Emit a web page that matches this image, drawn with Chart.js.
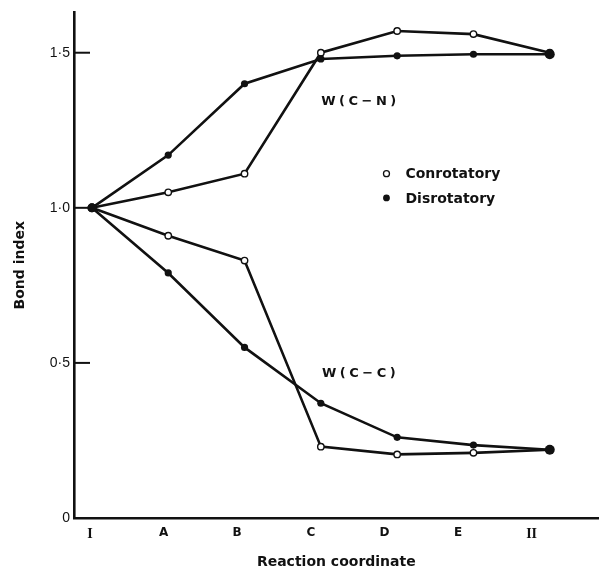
<!DOCTYPE html>
<html>
<head>
<meta charset="utf-8">
<script src="https://cdn.jsdelivr.net/npm/chart.js@4.4.1/dist/chart.umd.min.js"></script>
<style>
  html, body { margin: 0; padding: 0; background: #fff; }
  #wrap { width: 604px; height: 571px; }
</style>
</head>
<body>
<div id="wrap"><canvas id="chart"></canvas></div>
<script>
// Reaction coordinate points
const categories = ['I', 'A', 'B', 'C', 'D', 'E', 'II'];

// W(C-N) bond index
const conCN = [1.0, 1.05, 1.11, 1.50, 1.57, 1.56, 1.50];
const disCN = [1.0, 1.17, 1.40, 1.48, 1.49, 1.495, 1.495];

// W(C-C) bond index
const conCC = [1.0, 0.91, 0.83, 0.23, 0.205, 0.21, 0.22];
const disCC = [1.0, 0.79, 0.55, 0.37, 0.26, 0.235, 0.22];

const yTickValues = [0, 0.5, 1.0, 1.5];
const yTickLabels = ['0', '0·5', '1·0', '1·5'];

const toPoints = arr => arr.map((v, i) => ({ x: i, y: v }));

const INK = '#111';
const sans = "'Liberation Sans', Arial, sans-serif";
const wide = "'DejaVu Sans', sans-serif";

// radius of the filled dots, bigger at the two end states
const disRadius = [4.5, 3.6, 3.6, 3.6, 3.6, 3.6, 5];

function lineSet(label, data, open) {
  return {
    label: label,
    data: toPoints(data),
    borderColor: INK,
    borderWidth: 2.6,
    tension: 0,
    pointStyle: 'circle',
    pointRadius: open ? 3.2 : disRadius,
    pointBorderWidth: open ? 1.4 : 0,
    pointBorderColor: INK,
    pointBackgroundColor: open ? '#fff' : INK
  };
}

// inward tick marks on the y axis, text labels and legend inside the plot
const decorations = {
  id: 'decorations',
  afterDraw(chart) {
    const { ctx, chartArea, scales } = chart;
    const x = scales.x, y = scales.y;
    ctx.save();
    ctx.strokeStyle = INK;
    ctx.lineWidth = 2;
    yTickValues.forEach(v => {
      if (v === 0) return;
      const py = y.getPixelForValue(v);
      ctx.beginPath();
      ctx.moveTo(chartArea.left, py);
      ctx.lineTo(chartArea.left + 16, py);
      ctx.stroke();
    });

    ctx.fillStyle = INK;
    ctx.textBaseline = 'middle';
    ctx.font = 'bold 13px ' + wide;
    if ('letterSpacing' in ctx) ctx.letterSpacing = '3.5px';
    ctx.textAlign = 'center';
    ctx.fillText('W(C\u2212N)', x.getPixelForValue(3.52), y.getPixelForValue(1.342));
    ctx.fillText('W(C\u2212C)', x.getPixelForValue(3.52), y.getPixelForValue(0.466));
    if ('letterSpacing' in ctx) ctx.letterSpacing = '0px';

    // legend
    const lx = x.getPixelForValue(3.86);
    const rows = [
      { text: 'Conrotatory', open: true, v: 1.11 },
      { text: 'Disrotatory', open: false, v: 1.032 }
    ];
    ctx.font = 'bold 14px ' + wide;
    ctx.textAlign = 'left';
    rows.forEach(r => {
      const py = y.getPixelForValue(r.v);
      ctx.beginPath();
      ctx.arc(lx, py, r.open ? 3 : 3.4, 0, Math.PI * 2);
      if (r.open) {
        ctx.fillStyle = '#fff';
        ctx.fill();
        ctx.lineWidth = 1.3;
        ctx.stroke();
      } else {
        ctx.fillStyle = INK;
        ctx.fill();
      }
      ctx.fillStyle = INK;
      ctx.fillText(r.text, lx + 19, py + 1);
    });
    ctx.restore();
  }
};

new Chart(document.getElementById('chart'), {
  type: 'line',
  data: {
    datasets: [
      lineSet('Disrotatory W(C-N)', disCN, false),
      lineSet('Disrotatory W(C-C)', disCC, false),
      lineSet('Conrotatory W(C-N)', conCN, true),
      lineSet('Conrotatory W(C-C)', conCC, true)
    ]
  },
  options: {
    responsive: true,
    maintainAspectRatio: false,
    animation: false,
    layout: { padding: { top: 9, right: 4, left: 0, bottom: 0 } },
    plugins: {
      legend: { display: false },
      tooltip: { enabled: false }
    },
    scales: {
      // data axis: carries the baseline only
      x: {
        type: 'linear',
        position: 'bottom',
        min: -0.235,
        max: 6.64,
        weight: 0,
        grid: { display: false },
        border: { display: true, color: INK, width: 2.6 },
        ticks: { display: false },
        afterFit: s => { s.height = 0; }
      },
      // label axis: the printed category labels sit slightly left of the points
      xl: {
        type: 'linear',
        position: 'bottom',
        min: -0.217,
        max: 6.91,
        weight: 1,
        grid: { display: false, drawTicks: false },
        border: { display: false },
        ticks: {
          stepSize: 1,
          autoSkip: false,
          includeBounds: false,
          maxRotation: 0,
          padding: 8,
          color: INK,
          font: c => {
            const lab = categories[c.tick ? c.tick.value : 0] || '';
            return lab.startsWith('I')
              ? { family: "'Liberation Serif', serif", size: 14, weight: 'bold' }
              : { family: wide, size: 12, weight: 'bold' };
          },
          callback: v => Number.isInteger(v) ? categories[v] : ''
        },
        title: {
          display: true,
          text: 'Reaction coordinate',
          color: INK,
          font: { family: wide, size: 14, weight: 'bold' },
          padding: { top: 12, bottom: 0 }
        },
        afterFit: s => { s.height = 53; }
      },
      y: {
        min: 0,
        max: 1.63,
        grid: { display: false, drawTicks: false },
        border: { display: true, color: INK, width: 2.6 },
        afterBuildTicks: s => { s.ticks = yTickValues.map(v => ({ value: v })); },
        ticks: {
          padding: 4,
          color: INK,
          font: { family: sans, size: 14 },
          callback: v => yTickLabels[yTickValues.indexOf(v)]
        },
        title: {
          display: true,
          text: 'Bond index',
          color: INK,
          font: { family: wide, size: 14, weight: 'bold' },
          padding: { top: 12, bottom: 0 }
        },
        afterFit: s => { s.width = 74; }
      }
    }
  },
  plugins: [decorations]
});
</script>
</body>
</html>
